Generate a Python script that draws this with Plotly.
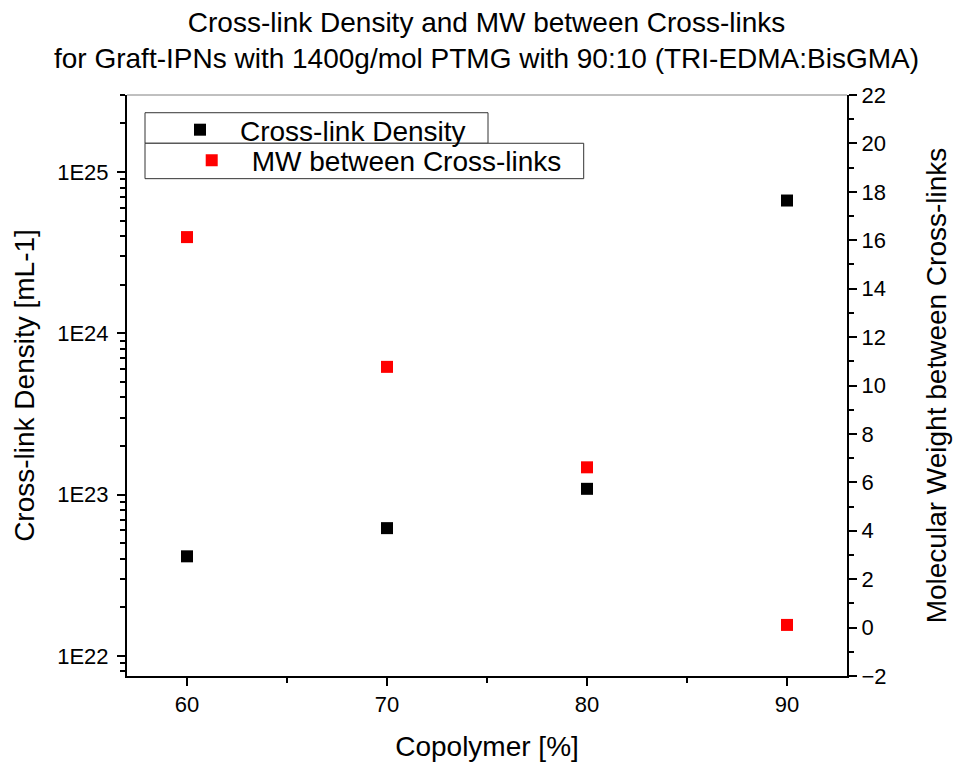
import plotly.graph_objects as go

# Copolymer content [%]
copolymer = [60, 70, 80, 90]
# Cross-link density [mL-1]
crosslink_density = [4.14e22, 6.19e22, 1.085e23, 6.65e24]
# Molecular weight between cross-links
mw_between = [16.13, 10.77, 6.62, 0.11]

density_ticks = [1e22, 1e23, 1e24, 1e25]
density_ticktext = ["1E22", "1E23", "1E24", "1E25"]
density_minor = [float(m) * 10.0 ** e for e in range(21, 26) for m in range(2, 10)]

FONT = "Arial, Liberation Sans, sans-serif"
TITLE_SIZE = 28

fig = go.Figure()

fig.add_trace(go.Scatter(
    x=copolymer, y=crosslink_density, mode="markers",
    name="Cross-link Density",
    marker=dict(symbol="square", size=12, color="black"),
    yaxis="y", legend="legend",
))
fig.add_trace(go.Scatter(
    x=copolymer, y=mw_between, mode="markers",
    name="MW between Cross-links",
    marker=dict(symbol="square", size=12, color="#ff0000"),
    yaxis="y2", legend="legend2",
))

axis_common = dict(
    showgrid=False, zeroline=False, showline=True, automargin=False,
    linecolor="black", linewidth=2,
    ticks="outside", ticklen=8, tickwidth=2, tickcolor="black",
    tickfont=dict(family=FONT, size=22, color="black"),
)

fig.update_layout(
    width=954, height=763,
    margin=dict(l=127, r=107, t=95, b=87),
    paper_bgcolor="white", plot_bgcolor="white",
    font=dict(family=FONT, color="black"),
    title=dict(
        text="Cross-link Density and MW between Cross-links<br>"
             "for Graft-IPNs with 1400g/mol PTMG with 90:10 (TRI-EDMA:BisGMA)",
        x=0.51, xanchor="center", yref="container", y=1 - 32 / 763,
        yanchor="middle",
        font=dict(family=FONT, size=TITLE_SIZE, color="black"),
    ),
    xaxis=dict(
        **axis_common,
        range=[57, 93],
        tickvals=[60, 70, 80, 90],
        minor=dict(tickvals=[65, 75, 85], ticks="outside", ticklen=5,
                   tickwidth=2, tickcolor="black"),
        title=dict(text="Copolymer [%]", font=dict(family=FONT, size=TITLE_SIZE),
                   standoff=20),
    ),
    yaxis=dict(
        **axis_common,
        type="log",
        range=[21.875, 25.477],
        tickvals=density_ticks, ticktext=density_ticktext,
        ticklabelstandoff=4,
        minor=dict(tickvals=density_minor, ticks="outside", ticklen=5,
                   tickwidth=2, tickcolor="black"),
        title=dict(text="Cross-link Density [mL-1]",
                   font=dict(family=FONT, size=TITLE_SIZE), standoff=14),
    ),
    yaxis2=dict(
        **axis_common,
        overlaying="y", side="right",
        range=[-2, 22], dtick=2, tick0=0,
        minor=dict(dtick=1, ticks="outside", ticklen=5,
                   tickwidth=2, tickcolor="black"),
        title=dict(text="Molecular Weight between Cross-links",
                   font=dict(family=FONT, size=TITLE_SIZE), standoff=41),
    ),
    legend=dict(
        x=0.0458, y=0.9828, xanchor="left", yanchor="top",
        bgcolor="rgba(0,0,0,0)", borderwidth=0, itemwidth=70,
        font=dict(family=FONT, size=28, color="black"),
    ),
    legend2=dict(
        x=0.0621, y=0.9303, xanchor="left", yanchor="top",
        bgcolor="rgba(0,0,0,0)", borderwidth=0, itemwidth=70,
        font=dict(family=FONT, size=28, color="black"),
    ),
    showlegend=True,
)

# legend frames and the thin top border
fig.add_shape(type="rect", xref="paper", yref="paper",
              x0=0.025, x1=0.5014, y0=0.9169, y1=0.9695,
              line=dict(color="#333333", width=1), fillcolor="white", layer="below")
fig.add_shape(type="rect", xref="paper", yref="paper",
              x0=0.025, x1=0.6343, y0=0.856, y1=0.9169,
              line=dict(color="#333333", width=1), fillcolor="white", layer="below")
fig.add_shape(type="line", xref="paper", yref="paper",
              x0=0, x1=1, y0=1, y1=1,
              line=dict(color="#808080", width=1))

fig.write_html("out.html")
